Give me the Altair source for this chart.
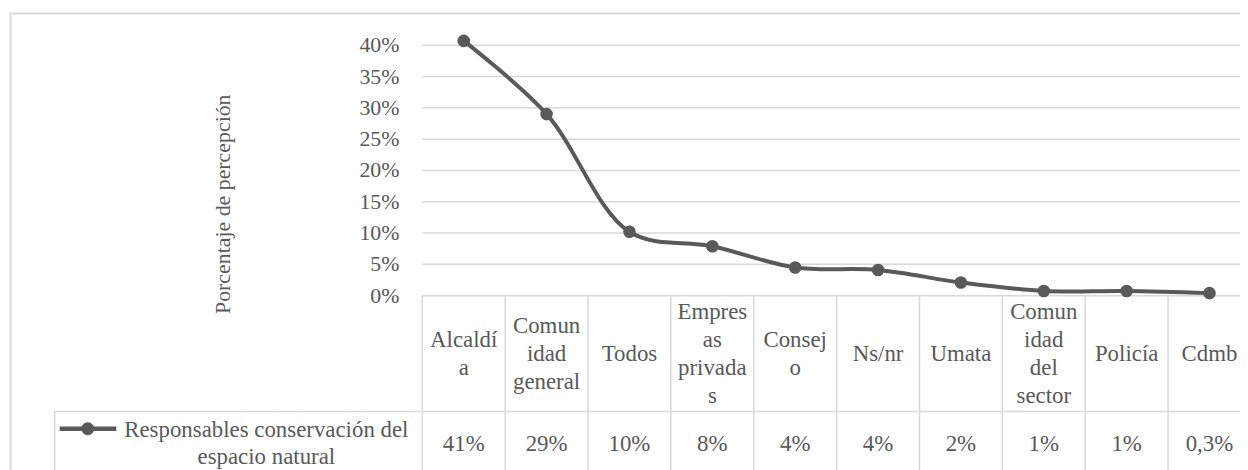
import altair as alt
import pandas as pd

# ---- data ----
categories = ["Alcaldía", "Comunidad general", "Todos", "Empresas privadas", "Consejo",
              "Ns/nr", "Umata", "Comunidad del sector", "Policía", "Cdmb"]
header_labels = ["Alcaldí\na", "Comun\nidad\ngeneral", "Todos", "Empres\nas\nprivada\ns",
                 "Consej\no", "Ns/nr", "Umata", "Comun\nidad\ndel\nsector", "Policía", "Cdmb"]
values = [0.407, 0.290, 0.102, 0.079, 0.045, 0.041, 0.021, 0.0075, 0.0075, 0.004]
value_labels = ["41%", "29%", "10%", "8%", "4%", "4%", "2%", "1%", "1%", "0,3%"]
y_ticks = [0.0, 0.05, 0.10, 0.15, 0.20, 0.25, 0.30, 0.35, 0.40]
y_tick_labels = ["0%", "5%", "10%", "15%", "20%", "25%", "30%", "35%", "40%"]
series_name = "Responsables conservación del\nespacio natural"
y_title = "Porcentaje de percepción"

# ---- styling ----
FONT = "Liberation Serif"
FS = 22
FS_TAB = 23
TXT = "#595959"
GRID = "#d9d9d9"
LINE = "#595959"
STEP = 83.4
W, H = 823, 252
HEAD_LH = 28.3
HEAD_CY = 310.7

df = pd.DataFrame({"cat": categories, "val": values,
                   "head": header_labels, "lab": value_labels})
df["nl"] = df["head"].str.count("\n") + 1
ticks_df = pd.DataFrame({"t": y_ticks, "tl": y_tick_labels})
one = pd.DataFrame({"k": [0]})

xs = alt.X("cat:N", sort=categories, axis=None,
           scale=alt.Scale(type="point", domain=categories, range=[0, STEP * 10], padding=0.5))
yscale = alt.Scale(domain=[0, 0.4], nice=False, zero=True)
yt = alt.Y("t:Q", scale=yscale, axis=None)

base = alt.Chart(df)
tb = alt.Chart(ticks_df)

grid = tb.mark_rule(color=GRID, strokeWidth=1.5).encode(
    y=yt, x=alt.value(0), x2=alt.value(W + 50))
ylabels = tb.mark_text(font=FONT, fontSize=FS, color=TXT, align="right",
                       baseline="middle").encode(
    y=yt, x=alt.value(-23), text="tl:N")

line = base.mark_line(color=LINE, strokeWidth=4, interpolate="catmull-rom").encode(
    x=xs, y=alt.Y("val:Q", scale=yscale, axis=None))
points = base.mark_circle(color=LINE, opacity=1, size=160).encode(
    x=xs, y=alt.Y("val:Q", scale=yscale, axis=None))

# table: column separators
col_rules = base.mark_rule(color=GRID, strokeWidth=1.5, xOffset=-STEP / 2).encode(
    x=xs, y=alt.value(H), y2=alt.value(H + 300))

# header text, one layer per line count so each block is vertically centred
head_layers = []
for n in sorted(df["nl"].unique()):
    head_layers.append(
        base.transform_filter(alt.datum.nl == int(n)).mark_text(
            font=FONT, fontSize=FS_TAB, color=TXT, lineBreak="\n", lineHeight=HEAD_LH,
            align="center", baseline="middle").encode(
            x=xs, y=alt.value(HEAD_CY - (int(n) - 1) * HEAD_LH / 2), text="head:N"))

val_text = base.mark_text(font=FONT, fontSize=FS_TAB, color=TXT, align="center",
                          baseline="middle").encode(
    x=xs, y=alt.value(401), text="lab:N")

ob = alt.Chart(one)
row_rule = ob.mark_rule(color=GRID, strokeWidth=1.5).encode(
    x=alt.value(-370), x2=alt.value(W + 50), y=alt.value(368.5))
leg_left = ob.mark_rule(color=GRID, strokeWidth=1.5).encode(
    x=alt.value(-370), y=alt.value(368.5), y2=alt.value(H + 300))
border = ob.mark_rect(fillOpacity=0, stroke=GRID, strokeWidth=2).encode(
    x=alt.value(-414.5), x2=alt.value(W + 100), y=alt.value(-32), y2=alt.value(H + 300))
leg_line = ob.mark_rule(color=LINE, strokeWidth=4.5).encode(
    x=alt.value(-365), x2=alt.value(-308), y=alt.value(386))
leg_dot = ob.mark_circle(color=LINE, opacity=1, size=170).encode(
    x=alt.value(-336.7), y=alt.value(386))
leg_text = ob.mark_text(font=FONT, fontSize=FS_TAB, color=TXT, lineBreak="\n", lineHeight=27,
                        align="center", baseline="middle").encode(
    x=alt.value(-157), y=alt.value(387.5), text=alt.value(series_name))
title_text = ob.mark_text(font=FONT, fontSize=FS, color=TXT, angle=270,
                          align="center", baseline="middle").encode(
    x=alt.value(-201), y=alt.value(160), text=alt.value(y_title))

chart = alt.layer(
    border, grid, ylabels, col_rules, row_rule, leg_left, *head_layers, val_text,
    leg_line, leg_dot, leg_text, title_text, line, points
).properties(
    width=W, height=H,
    autosize=alt.AutoSizeParams(type="none"),
    padding={"left": 417, "top": 36, "right": 0, "bottom": 174},
).configure_view(stroke=None)

chart.save("out.html", embed_options={"renderer": "svg", "actions": False})
